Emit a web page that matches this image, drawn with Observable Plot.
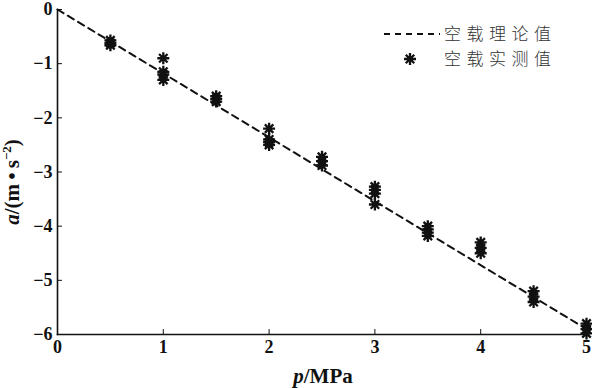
<!DOCTYPE html>
<html><head><meta charset="utf-8">
<script src="https://cdn.jsdelivr.net/npm/d3@7"></script>
<script src="https://cdn.jsdelivr.net/npm/@observablehq/plot@0.6"></script>
<style>
body{margin:0;background:#fff;}
#wrap{position:relative;width:592px;height:388px;}
</style></head><body><div id="wrap"></div>
<script>
// measured (空载实测值)
const pressure = [0.5,0.5,0.5, 1,1,1,1, 1.5,1.5,1.5, 2,2,2,2, 2.5,2.5,2.5, 3,3,3,3, 3.5,3.5,3.5,3.5, 4,4,4, 4.5,4.5,4.5, 5,5,5];
const accel =    [-0.57,-0.62,-0.66, -0.9,-1.15,-1.2,-1.3, -1.6,-1.65,-1.7, -2.2,-2.4,-2.45,-2.5, -2.72,-2.8,-2.88, -3.27,-3.33,-3.4,-3.6, -4.0,-4.06,-4.12,-4.18, -4.3,-4.4,-4.5, -5.2,-5.3,-5.4, -5.8,-5.9,-5.98];
// theory (空载理论值)
const theoryP = [0, 5];
const theoryA = [0, -5.9];
const xTicks = [0,1,2,3,4,5];
const yTicks = [0,-1,-2,-3,-4,-5,-6];
const legendLabels = ["空载理论值", "空载实测值"];

const measured = pressure.map((p,i)=>({p, a: accel[i]}));
const theory = theoryP.map((p,i)=>({p, a: theoryA[i]}));

const star8 = {
  draw(ctx, size) {
    const r = Math.sqrt(size / Math.PI);
    for (let i = 0; i < 4; i++) {
      const t = i * Math.PI / 4;
      const c = Math.cos(t) * r, s = Math.sin(t) * r;
      ctx.moveTo(c, s); ctx.lineTo(-c, -s);
    }
  }
};

const serif = "'Liberation Serif','Times New Roman',serif";
const fmt = d3.format("d");

const chart = Plot.plot({
  width: 592, height: 388,
  marginLeft: 57, marginRight: 6, marginTop: 9, marginBottom: 54,
  style: {fontFamily: serif, background: "#fff", color: "#111"},
  x: {domain: [0,5]},
  y: {domain: [-6,0]},
  marks: [
    Plot.axisX({ticks: xTicks, tickSize: -5, tickPadding: 11, fontSize: 18, fontWeight: "bold", label: null, tickFormat: fmt}),
    Plot.axisY({ticks: yTicks, tickSize: -5, tickPadding: 10, fontSize: 18, fontWeight: "bold", label: null, tickFormat: fmt}),
    Plot.frame({anchor: "left", strokeWidth: 1.6}),
    Plot.frame({anchor: "bottom", strokeWidth: 1.6}),
    Plot.line(theory, {x: "p", y: "a", stroke: "#111", strokeWidth: 2, strokeDasharray: "7,5"}),
    Plot.dot(measured, {x: "p", y: "a", symbol: star8, r: 6, fill: "none", stroke: "#111", strokeWidth: 2.3})
  ]
});
document.getElementById("wrap").appendChild(chart);

const svg = d3.select(chart);
// axis labels
const xl = svg.append("text").attr("x", 323).attr("y", 383).attr("text-anchor", "middle")
  .attr("font-family", serif).attr("font-size", 21).attr("font-weight", "bold").attr("fill", "#111");
xl.append("tspan").attr("font-style", "italic").text("p");
xl.append("tspan").text("/MPa");

const yl = svg.append("text").attr("transform", "translate(19,182) rotate(-90)").attr("text-anchor", "middle")
  .attr("font-family", serif).attr("font-size", 21).attr("font-weight", "bold").attr("fill", "#111");
yl.append("tspan").attr("font-style", "italic").text("a");
yl.append("tspan").text("/(m\u2009•\u2009s");
yl.append("tspan").attr("font-size", 13).attr("dy", -8).text("−2");
yl.append("tspan").attr("dy", 8).text(")");

// legend
const lg = svg.append("g");
lg.append("line").attr("x1", 384).attr("x2", 440).attr("y1", 34).attr("y2", 34)
  .attr("stroke", "#111").attr("stroke-width", 2).attr("stroke-dasharray", "6,5");
lg.append("path").attr("transform", "translate(410,59)").attr("d", (() => { const p = d3.path(); star8.draw(p, Math.PI*36); return p.toString(); })())
  .attr("fill", "none").attr("stroke", "#111").attr("stroke-width", 2.3);
legendLabels.forEach((t, i) => {
  lg.append("text").attr("x", 444).attr("y", 34 + i*25).attr("dy", "0.36em").attr("text-anchor", "start")
    .attr("font-family", "'Noto Sans CJK SC'").attr("font-size", 17).attr("font-weight", 300)
    .attr("letter-spacing", 5.5).attr("fill", "#333").text(t);
});
</script></body></html>
